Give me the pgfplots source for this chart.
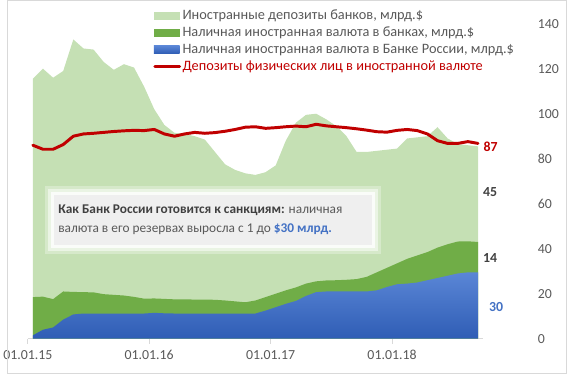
\documentclass[border=0pt]{standalone}
\usepackage{fontspec}
\setmainfont{Carlito}
\usepackage{pgfplots}
\pgfplotsset{compat=1.18}
\usepackage{pgfplotstable}
\definecolor{lgreen}{HTML}{C5E0B4}
\definecolor{mgreen}{HTML}{70AD47}
\definecolor{bluetop}{HTML}{5A86D6}
\definecolor{bluebot}{HTML}{2F5DB5}
\definecolor{dred}{HTML}{C00000}
\definecolor{txtgray}{HTML}{595959}
\definecolor{dgray}{HTML}{404040}
\definecolor{lblue}{HTML}{4472C4}
\definecolor{boxgray}{HTML}{EFEFEF}
\definecolor{framegray}{HTML}{D9D9D9}

\pgfplotstableread{
x tot gt b red
0.5 115.5 18.5 1.5 86
1.5 120 18.7 4 84.2
2.5 116 17.6 5 84.2
3.5 119 21 8.5 86.3
4.5 133 20.8 10.8 90
5.5 129 20.7 11.2 91
6.5 128.5 20.6 11.2 91.3
7.5 123 19.8 11.2 91.7
8.5 119.5 19.5 11.2 92.1
9.5 122 19.2 11.2 92.4
10.5 120.5 18.6 11.2 92.6
11.5 112 17.8 11.2 92.5
12.5 102 17.9 11.5 93
13.5 95 17.7 11.3 91
14.5 91.5 17.5 11.2 90
15.5 91 17.5 11.2 91
16.5 90 17.4 11.2 91.7
17.5 88.5 17.4 11.2 91.3
18.5 83 17.3 11.2 91.6
19.5 77.5 17.0 11.2 92.2
20.5 75 16.6 11.2 93
21.5 73.5 16.2 11.2 94
22.5 72.8 17.0 11.2 94.2
23.5 74 18.5 12.5 93.5
24.5 77 20.0 14 93.8
25.5 88 21.5 15.5 94.2
26.5 96 22.8 16.8 94.5
27.5 99.5 24.5 19 94.2
28.5 100 25.5 20.7 95.3
29.5 97.5 25.9 21 94.6
30.5 94.5 26.0 21 94.2
31.5 90 26.2 21 93.8
32.5 83 26.5 21 93.3
33.5 83 27.5 21 92.7
34.5 83.5 29.5 21.5 92
35.5 84 31.5 23 91.8
36.5 84.5 33.5 24.2 92.6
37.5 89 35.5 24.5 93
38.5 89.5 37 25 92.5
39.5 90 38.5 26 91
40.5 94 40.5 27 88
41.5 89 42 28 86.8
42.5 86.5 43.2 29 86.8
43.5 86 43.3 29.5 87.6
44.5 85.5 43 29.5 86.8
}\data

\begin{document}
\begin{tikzpicture}
\begin{axis}[
  name=ax,
  width=461pt, height=319pt, scale only axis,
  xmin=0, xmax=45, ymin=0, ymax=140,
  axis x line*=bottom, axis y line*=right,
  y axis line style={draw=none},
  x axis line style={framegray, line width=0.8pt},
  xtick={0,12,24,36},
  xticklabels={01.01.15,01.01.16,01.01.17,01.01.18},
  ytick={0,20,...,140},
  tick align=outside, major tick length=5pt,
  xtick style={framegray, line width=0.8pt},
  ytick style={draw=none},
  ticklabel style={font=\fontsize{14}{16}\selectfont, text=txtgray},
  xticklabel style={yshift=-3pt},
  /pgf/number format/assume math mode=true,
  yticklabel style={anchor=west, xshift=47pt},
  clip=false,
  legend style={at={(axis description cs:0.2755,1.049)}, anchor=north west,
    draw=none, fill=none, font=\fontsize{14.5}{16}\selectfont, text=txtgray,
    row sep=3pt, inner sep=0pt, nodes={inner sep=1.5pt}},
  legend cell align=left,
]
\addplot[draw=none, fill=lgreen,
  legend image code/.code={\fill[lgreen] (0pt,-4pt) rectangle (26pt,4pt);}]
  table[x=x,y=tot] {\data} \closedcycle;
\addlegendentry{Иностранные депозиты банков, млрд.\$}
\addplot[draw=none, fill=mgreen,
  legend image code/.code={\fill[mgreen] (0pt,-4pt) rectangle (26pt,4pt);}]
  table[x=x,y=gt] {\data} \closedcycle;
\addlegendentry{Наличная иностранная валюта в банках, млрд.\$}
\addplot[draw=none, top color=bluetop, bottom color=bluebot,
  legend image code/.code={\shade[top color=bluetop, bottom color=bluebot] (0pt,-4pt) rectangle (26pt,4pt);}]
  table[x=x,y=b] {\data} \closedcycle;
\addlegendentry{Наличная иностранная валюта в Банке России, млрд.\$}
\addplot[dred, line width=3pt, line join=round, line cap=round,
  legend image code/.code={\draw[dred, line width=3pt, line cap=round] (1pt,0pt) -- (26pt,0pt);}]
  table[x=x,y=red] {\data};
\addlegendentry{\textcolor{dred}{Депозиты физических лиц в иностранной валюте}}

% annotation box with glow
\fill[white, opacity=0.3] ([shift={(-9pt,-9pt)}]axis cs:2.55,41.7) rectangle ([shift={(9pt,9pt)}]axis cs:34.0,64);
\fill[white, opacity=0.5] ([shift={(-6pt,-6pt)}]axis cs:2.55,41.7) rectangle ([shift={(6pt,6pt)}]axis cs:34.0,64);
\fill[white, opacity=0.8] ([shift={(-3pt,-3pt)}]axis cs:2.55,41.7) rectangle ([shift={(3pt,3pt)}]axis cs:34.0,64);
\fill[boxgray] (axis cs:2.55,41.7) rectangle (axis cs:34.0,64);
\node[anchor=west, align=left, inner sep=0pt, text=txtgray,
  font=\fontsize{13.5}{19}\selectfont] at (axis cs:3.0,52.9)
  {\textbf{\textcolor{dgray}{Как Банк России готовится к санкциям:}} наличная\\
   валюта в его резервах выросла с 1 до \textbf{\textcolor{lblue}{\$30 млрд.}}};

% end labels
\node[font=\bfseries\fontsize{14}{16}\selectfont, text=dred] at (axis cs:45.75,85.5) {87};
\node[font=\bfseries\fontsize{14}{16}\selectfont, text=dgray] at (axis cs:45.7,65) {45};
\node[font=\bfseries\fontsize{14}{16}\selectfont, text=dgray] at (axis cs:45.7,36) {14};
\node[font=\bfseries\fontsize{14}{16}\selectfont, text=lblue] at (axis cs:46.3,14) {30};
\end{axis}
\draw[framegray, line width=0.8pt] ([shift={(-20.6pt,-34.6pt)}]ax.south west) rectangle ([shift={(545.6pt,342.6pt)}]ax.south west);
\end{tikzpicture}
\end{document}
